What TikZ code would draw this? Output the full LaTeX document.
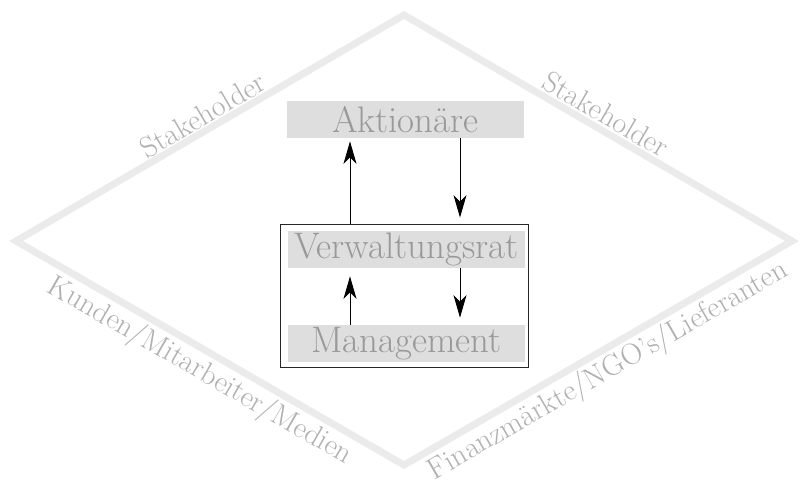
\documentclass[tikz,border=0pt]{standalone}
\usepackage{tikz}
\usepackage{xcolor}
\usetikzlibrary{arrows.meta,calc,positioning}
\definecolor{rimgray}{HTML}{EBEBEB}
\definecolor{boxgray}{HTML}{DEDEDE}
\definecolor{boxtext}{HTML}{999999}
\definecolor{labeltext}{HTML}{B0B0B0}
\tikzset{%
	rim/.style      = {line width=0.14cm, rimgray, line join=miter},
	organ/.style    = {fill=boxgray, text=boxtext, minimum width=4.74cm, minimum height=0.74cm, inner sep=0pt, font=\fontsize{21}{23}\selectfont},
	frame/.style    = {draw=black!85, line width=0.5pt, minimum width=4.96cm, minimum height=2.86cm, inner sep=0pt},
	edgelabel/.style= {text=labeltext, font=\fontsize{17}{20}\selectfont, sloped, midway, anchor=center},
	arrow/.style    = {line width=0.5pt, -{Stealth[length=0.45cm,width=0.26cm,inset=0.13cm]}},
}
\begin{document}
\begin{tikzpicture}
	\useasboundingbox (0,0) rectangle (15.96,9.66);
	% diamond
	\coordinate (tipN) at (8.08,9.36);
	\coordinate (tipE) at (15.84,4.84);
	\coordinate (tipS) at (8.08,0.36);
	\coordinate (tipW) at (0.32,4.84);
	\draw[rim] (tipN) -- (tipE) -- (tipS) -- (tipW) -- cycle;
	\path (tipW) -- (tipN) node[edgelabel, yshift=0.3cm] {Stakeholder};
	\path (tipN) -- (tipE) node[edgelabel, yshift=0.32cm] {Stakeholder};
	\path (tipW) -- (tipS) node[edgelabel, yshift=-0.42cm] {Kunden/Mitarbeiter/Medien};
	\path (tipS) -- (tipE) node[edgelabel, yshift=-0.42cm] {Finanzm\"arkte/NGO's/Lieferanten};
	% boxes
	\node[frame] (board) at (8.08,3.75) {};
	\node[organ] (aktionaere) at (8.11,7.27) {Aktion\"are};
	\node[organ] (vr) at (8.13,4.67) {Verwaltungsrat};
	\node[organ] (mgmt) at (8.13,2.79) {Management};
	% arrows
	\draw[arrow, shorten >=0.06cm] ([xshift=-1.08cm]board.north) -- ([xshift=-1.08cm]board.north |- aktionaere.south);
	\draw[arrow, shorten >=0.12cm] ([xshift=1.09cm]aktionaere.south) -- ([xshift=1.09cm]aktionaere.south |- board.north);
	\draw[arrow, shorten >=0.16cm] ([xshift=-1.13cm]mgmt.north) -- ([xshift=-1.13cm]vr.south);
	\draw[arrow, shorten >=0.14cm] ([xshift=1.07cm]vr.south) -- ([xshift=1.07cm]mgmt.north);
\end{tikzpicture}
\end{document}
